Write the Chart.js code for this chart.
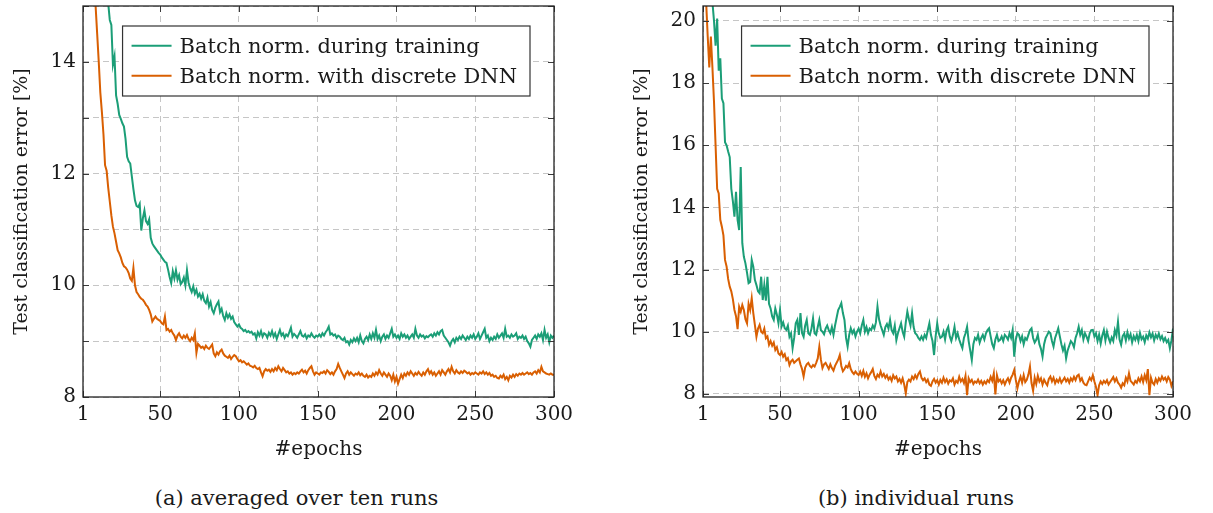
<!DOCTYPE html>
<html>
<head>
<meta charset="utf-8">
<script src="https://cdn.jsdelivr.net/npm/chart.js@4.4.1/dist/chart.umd.min.js"></script>
<style>
  html, body { margin: 0; padding: 0; background: #fff; }
  body { width: 1213px; height: 513px; position: relative; overflow: hidden;
         font-family: "DejaVu Serif", serif; color: #1a1a1a; }
  .panel { position: absolute; top: 0; }
  #panelA { left: 0; }
  #panelB { left: 620px; }
  .caption { position: absolute; top: 483px; height: 30px; line-height: 30px;
             font-size: 21px; text-align: center; white-space: nowrap; }
  #capA { left: 0; width: 593px; }
  #capB { left: 620px; width: 592px; }
</style>
</head>
<body>
<div class="panel" id="panelA"><canvas id="chartA" width="606" height="470"></canvas></div>
<div class="panel" id="panelB"><canvas id="chartB" width="593" height="470"></canvas></div>
<div class="caption" id="capA">(a) averaged over ten runs</div>
<div class="caption" id="capB">(b) individual runs</div>

<script>
// Test classification error [%] per epoch, averaged over ten runs
const avgTraining = [
  24.0,22.0,20.6,19.6,18.9,18.3,17.8,17.4,17.0,16.7,
  16.4,16.1,15.9,15.7,15.5,15.3,15.05,14.75,14.66,13.95,
  14.10,13.40,13.25,13.05,12.98,12.90,12.84,12.62,12.30,12.22,
  12.18,11.95,11.72,11.52,11.42,11.40,11.46,10.98,11.20,11.34,
  11.15,11.10,11.18,10.85,10.75,10.70,10.66,10.62,10.58,10.55,
  10.50,10.46,10.42,10.40,10.28,10.15,10.04,10.25,10.12,10.27,
  10.10,10.18,10.02,10.06,10.14,10.00,10.27,10.05,9.95,9.88,
  9.98,9.85,9.92,9.80,9.85,9.76,9.84,9.72,9.68,9.78,
  9.62,9.70,9.56,9.50,9.60,9.66,9.71,9.52,9.58,9.45,
  9.38,9.50,9.42,9.48,9.40,9.44,9.34,9.30,9.26,9.30,
  9.24,9.22,9.18,9.20,9.16,9.18,9.15,9.17,9.12,9.14,
  9.05,9.16,9.10,9.18,9.08,9.14,9.12,9.06,9.15,9.10,
  9.18,9.08,9.14,9.04,9.12,9.20,9.10,9.14,9.06,9.12,
  9.09,9.16,9.24,9.08,9.13,9.10,9.06,9.12,9.18,9.10,
  9.08,9.12,9.05,9.10,9.08,9.14,9.09,9.06,9.10,9.08,
  9.12,9.08,9.14,9.10,9.16,9.20,9.26,9.12,9.14,9.10,
  9.12,9.06,9.10,9.08,9.04,9.02,9.06,8.98,9.00,8.94,
  9.02,8.98,9.05,9.00,9.06,8.98,9.10,9.00,8.96,9.04,
  9.08,9.02,9.12,9.04,9.14,9.06,9.20,9.04,9.10,9.00,
  9.08,9.12,9.04,9.10,9.06,9.14,9.22,9.08,9.12,9.06,
  9.10,9.04,9.14,9.08,9.12,9.06,9.10,9.04,9.08,9.12,
  9.06,9.22,9.10,9.06,9.12,9.08,9.10,9.05,9.09,9.07,
  9.10,9.12,9.08,9.14,9.10,9.16,9.12,9.18,9.20,9.10,
  9.06,9.02,8.98,8.92,9.00,9.04,8.98,9.06,9.02,9.08,
  9.04,9.10,9.06,9.02,9.08,9.04,9.10,9.06,9.12,9.04,
  9.08,9.14,9.04,9.10,9.16,9.22,9.06,9.10,9.00,9.06,
  9.02,9.08,9.04,9.12,9.06,9.10,9.14,9.06,9.22,9.08,
  9.10,9.06,9.12,9.08,9.10,9.14,9.04,9.08,9.06,9.10,
  9.04,9.08,9.00,8.96,8.90,9.02,9.06,9.10,9.04,9.12,
  9.08,9.14,9.02,9.20,9.06,9.12,8.98,9.10,9.06,9.10
];
const avgDiscrete = [
  22.0,20.4,19.0,17.9,17.0,16.3,15.8,15.4,15.0,14.5,
  14.0,13.45,13.10,12.70,12.15,12.05,11.75,11.50,11.25,11.05,
  10.93,10.78,10.63,10.57,10.50,10.40,10.34,10.32,10.28,10.22,
  10.12,10.08,10.31,10.00,9.88,9.84,9.79,9.76,9.74,9.70,
  9.65,9.62,9.56,9.48,9.35,9.40,9.44,9.40,9.38,9.36,
  9.32,9.30,9.44,9.20,9.22,9.17,9.20,9.14,9.10,9.02,
  9.10,9.14,9.08,9.05,9.10,9.06,9.11,9.04,9.00,9.06,
  9.02,9.14,8.79,8.95,8.92,8.88,8.90,8.86,8.92,8.88,
  8.86,8.90,8.94,8.78,8.73,8.80,8.76,8.82,8.85,8.78,
  8.74,8.72,8.70,8.74,8.68,8.72,8.75,8.73,8.68,8.64,
  8.66,8.62,8.64,8.61,8.58,8.60,8.56,8.55,8.53,8.56,
  8.52,8.50,8.52,8.44,8.37,8.46,8.50,8.47,8.49,8.45,
  8.50,8.46,8.52,8.48,8.55,8.50,8.46,8.52,8.48,8.44,
  8.46,8.42,8.44,8.40,8.43,8.41,8.44,8.42,8.46,8.49,
  8.44,8.47,8.42,8.48,8.52,8.55,8.46,8.40,8.44,8.42,
  8.40,8.44,8.43,8.46,8.42,8.48,8.45,8.41,8.44,8.40,
  8.46,8.50,8.59,8.52,8.46,8.40,8.34,8.42,8.46,8.40,
  8.44,8.41,8.38,8.42,8.40,8.44,8.39,8.42,8.38,8.36,
  8.40,8.35,8.38,8.36,8.42,8.38,8.44,8.40,8.48,8.42,
  8.38,8.44,8.40,8.36,8.42,8.38,8.30,8.40,8.28,8.36,
  8.24,8.32,8.40,8.34,8.42,8.38,8.44,8.40,8.46,8.42,
  8.38,8.43,8.40,8.45,8.41,8.38,8.44,8.40,8.46,8.50,
  8.42,8.46,8.40,8.44,8.38,8.42,8.46,8.40,8.48,8.44,
  8.40,8.46,8.50,8.44,8.54,8.46,8.42,8.48,8.44,8.42,
  8.46,8.43,8.47,8.45,8.42,8.44,8.40,8.43,8.41,8.44,
  8.42,8.40,8.44,8.42,8.46,8.41,8.44,8.40,8.43,8.38,
  8.40,8.36,8.38,8.34,8.33,8.38,8.35,8.40,8.32,8.36,
  8.30,8.38,8.35,8.40,8.36,8.41,8.38,8.42,8.40,8.43,
  8.40,8.42,8.44,8.41,8.43,8.40,8.44,8.46,8.42,8.48,
  8.44,8.54,8.46,8.44,8.42,8.41,8.40,8.42,8.40,8.40
];

// Test classification error [%] per epoch, single runs
const runTraining = [
  26.0,24.5,23.2,22.3,21.6,21.0,20.6,20.0,19.2,20.08,
  18.4,18.8,17.5,17.35,16.1,16.0,15.8,15.62,14.6,14.2,
  13.7,14.5,13.6,13.27,15.3,12.85,12.41,12.2,11.9,11.56,
  11.60,12.31,12.09,11.67,11.50,11.30,11.24,11.77,11.02,11.50,
  11.00,11.77,10.90,10.75,10.49,10.38,10.75,10.55,10.27,10.70,
  10.17,10.30,10.11,10.06,10.20,9.84,9.95,9.47,9.80,10.27,
  10.38,9.90,10.60,9.96,9.84,10.20,10.38,9.95,9.90,10.10,
  10.43,9.95,9.90,10.15,10.38,10.05,10.00,9.92,10.10,10.20,
  10.05,9.95,10.15,9.90,10.20,10.45,10.70,10.80,10.92,10.60,
  10.38,9.80,9.52,9.90,10.11,9.95,10.05,9.85,10.00,10.10,
  9.95,10.20,10.38,10.00,10.15,9.95,10.10,10.05,10.20,10.10,
  10.30,10.81,10.40,10.20,10.05,9.90,10.15,10.25,10.10,10.38,
  10.05,9.95,10.20,9.73,9.95,10.11,10.27,10.00,9.84,10.30,
  10.65,10.40,10.20,10.60,10.15,9.95,9.90,9.80,9.74,9.85,
  9.74,9.90,9.80,10.05,10.27,9.90,9.70,9.25,9.85,10.27,
  9.95,9.80,9.84,10.00,9.75,10.05,10.16,9.85,9.70,9.90,
  10.16,9.80,9.95,9.75,9.60,9.47,9.80,9.95,10.16,9.70,
  9.40,9.09,9.60,9.80,9.74,9.90,9.65,9.80,9.90,9.75,
  9.95,10.05,10.11,9.85,9.60,9.47,9.75,9.90,9.70,9.74,
  9.85,9.70,9.90,9.84,9.75,9.95,9.80,10.06,9.20,9.75,
  9.95,9.90,9.70,9.85,9.60,9.80,9.74,9.90,10.05,10.11,
  9.80,9.65,9.74,9.90,9.60,9.45,9.20,9.60,9.80,9.90,
  10.00,9.95,9.70,9.52,9.80,9.95,10.11,9.85,9.60,9.40,
  9.55,9.14,9.40,9.55,9.70,9.63,9.50,9.80,9.95,10.16,
  9.90,10.05,9.75,9.95,9.84,9.70,9.95,10.05,10.06,9.85,
  9.95,9.70,9.90,9.62,9.88,10.05,9.72,10.00,9.80,9.66,
  9.82,9.70,10.05,9.88,10.32,9.75,9.58,9.86,9.94,9.72,
  9.98,9.78,9.92,9.66,9.86,9.74,9.90,9.70,9.96,9.76,
  9.84,9.66,9.88,9.78,9.98,9.82,9.94,9.72,9.90,9.80,
  9.94,9.76,9.86,9.70,9.80,9.66,9.74,9.47,9.72,10.10
];
const runDiscrete = [
  25.0,22.5,20.6,19.5,18.5,19.5,18.5,17.4,16.0,14.6,
  14.45,13.6,13.38,13.1,12.31,12.1,11.7,11.45,11.30,11.05,
  10.70,10.50,10.08,10.80,10.65,10.86,10.70,10.40,10.27,10.90,
  10.70,11.08,10.60,10.22,9.84,10.10,10.22,10.00,9.95,10.10,
  9.79,9.85,9.58,9.70,9.55,9.65,9.41,9.50,9.30,9.25,
  9.35,9.20,9.28,9.09,9.15,8.93,9.05,9.10,9.00,9.05,
  9.10,9.14,8.95,8.80,8.56,8.85,8.95,9.00,8.90,8.85,
  8.93,8.88,9.00,9.14,9.52,9.10,8.83,8.95,9.00,8.90,
  8.80,8.95,8.83,8.75,8.90,9.00,9.10,9.25,8.90,8.73,
  8.80,8.90,8.85,8.99,8.80,8.70,8.64,8.72,8.65,8.61,
  8.72,8.58,8.74,8.55,8.66,8.50,8.62,8.70,8.80,8.58,
  8.48,8.62,8.55,8.72,8.56,8.64,8.52,8.60,8.46,8.54,
  8.42,8.60,8.50,8.56,8.40,8.48,8.36,8.50,8.30,8.02,
  8.38,8.46,8.40,8.56,8.48,8.60,8.50,8.64,8.72,8.52,
  8.44,8.50,8.38,8.46,8.30,8.26,8.40,8.48,8.36,8.44,
  8.30,8.45,8.36,8.52,8.38,8.47,8.33,8.44,8.40,8.50,
  8.30,8.42,8.36,8.55,8.40,8.48,8.35,8.58,7.96,8.50,
  8.38,8.45,8.32,8.40,8.36,8.46,8.34,8.42,8.30,8.40,
  8.33,8.44,8.38,8.55,8.42,8.66,7.98,8.60,8.40,8.46,
  8.34,8.44,8.30,8.42,8.50,8.36,8.52,8.62,8.77,8.45,
  8.18,8.40,8.55,8.36,8.60,8.38,8.45,8.62,8.88,8.35,
  8.10,8.52,8.32,8.58,8.40,8.50,8.30,8.46,8.36,8.28,
  8.48,8.56,8.40,8.52,8.34,8.46,8.38,8.50,8.36,8.44,
  8.52,8.40,8.48,8.36,8.50,8.42,8.55,8.44,8.58,8.62,
  8.42,8.50,8.36,8.30,8.28,8.40,8.52,8.44,8.60,8.40,
  8.22,7.96,8.28,8.40,8.32,8.42,8.35,8.44,8.30,8.38,
  8.46,8.54,8.40,8.50,8.36,8.30,8.20,8.34,8.28,8.52,
  8.40,8.66,8.42,8.36,8.30,8.42,8.36,8.50,8.40,8.56,
  8.38,8.60,8.44,8.80,7.96,8.52,8.36,8.30,8.48,8.36,
  8.50,8.42,8.56,8.46,8.52,8.40,8.54,8.46,8.26,8.40
];

const seriesNames = ['Batch norm. during training', 'Batch norm. with discrete DNN'];
const xTickValues = [1, 50, 100, 150, 200, 250, 300];
const yTickValuesA = [8, 9, 10, 11, 12, 13, 14, 15];
const yLabelValuesA = [8, 10, 12, 14];
const yTickValuesB = [8, 10, 12, 14, 16, 18, 20];

const epochs = Array.from({ length: avgTraining.length }, (_, i) => i + 1);

const SERIF = '"DejaVu Serif", serif';
const INK = '#1a1a1a';
const GREEN = '#1b9e77';
const ORANGE = '#d95f02';

// Frame, inward tick marks on all four sides and the boxed legend
const pgfDecor = {
  id: 'pgfDecor',
  afterDraw(chart) {
    const { ctx, chartArea: a, scales: { x, y } } = chart;
    ctx.save();
    ctx.strokeStyle = '#3a3a3a';
    ctx.lineWidth = 1;
    ctx.beginPath();
    x.ticks.forEach(t => {
      const px = Math.round(x.getPixelForValue(t.value)) + 0.5;
      ctx.moveTo(px, a.bottom); ctx.lineTo(px, a.bottom - 6);
      ctx.moveTo(px, a.top); ctx.lineTo(px, a.top + 6);
    });
    y.ticks.forEach(t => {
      const py = Math.round(y.getPixelForValue(t.value)) + 0.5;
      ctx.moveTo(a.left, py); ctx.lineTo(a.left + 6, py);
      ctx.moveTo(a.right, py); ctx.lineTo(a.right - 6, py);
    });
    ctx.stroke();

    ctx.strokeStyle = '#222';
    ctx.lineWidth = 1.3;
    ctx.strokeRect(a.left, a.top, a.right - a.left, a.bottom - a.top);

    // legend box in the upper right corner of the plot
    ctx.font = '21px ' + SERIF;
    const sets = chart.data.datasets;
    const tw = Math.max(...sets.map(d => ctx.measureText(d.label).width));
    const bw = 57 + tw + 13, bh = 70;
    const bx = a.right - 24 - bw, by = a.top + 20;
    ctx.fillStyle = '#fff';
    ctx.fillRect(bx, by, bw, bh);
    ctx.strokeStyle = '#333';
    ctx.lineWidth = 1.2;
    ctx.strokeRect(bx, by, bw, bh);
    sets.forEach((d, i) => {
      const ry = by + 19.7 + i * 30;
      ctx.strokeStyle = d.borderColor;
      ctx.lineWidth = 2;
      ctx.beginPath();
      ctx.moveTo(bx + 9, ry); ctx.lineTo(bx + 49, ry);
      ctx.stroke();
      ctx.fillStyle = INK;
      ctx.textBaseline = 'alphabetic';
      ctx.textAlign = 'left';
      ctx.fillText(d.label, bx + 57, ry + 7.6);
    });
    ctx.restore();
  }
};

function lockWidth(w) {
  return s => { s.width = w; s.paddingTop = 0; s.paddingBottom = 0; s.paddingLeft = 0; s.paddingRight = 0; };
}
function lockHeight(h) {
  return s => { s.height = h; s.paddingTop = 0; s.paddingBottom = 0; s.paddingLeft = 0; s.paddingRight = 0; };
}

function makeChart(canvasId, training, discrete, yOpts, rightPad) {
  const gridCommon = { color: '#c6c6c6', lineWidth: 1, drawTicks: false };
  const borderCommon = { display: false, dash: [6, 4] };
  return new Chart(document.getElementById(canvasId), {
    type: 'line',
    data: {
      labels: epochs,
      datasets: [
        { label: seriesNames[0], data: training, borderColor: GREEN, borderWidth: 2,
          pointRadius: 0, tension: 0, fill: false },
        { label: seriesNames[1], data: discrete, borderColor: ORANGE, borderWidth: 2,
          pointRadius: 0, tension: 0, fill: false }
      ]
    },
    options: {
      responsive: false,
      animation: false,
      events: [],
      layout: { padding: { left: 0, top: 6, right: rightPad, bottom: 0 } },
      plugins: { legend: { display: false }, tooltip: { enabled: false } },
      scales: {
        x: {
          type: 'linear', min: 1, max: 300,
          grid: gridCommon, border: borderCommon,
          afterBuildTicks: s => { s.ticks = xTickValues.map(v => ({ value: v })); },
          afterFit: lockHeight(73),
          ticks: { autoSkip: false, maxRotation: 0, padding: 6, color: INK,
                   font: { family: SERIF, size: 20 } },
          title: { display: true, text: '#epochs', color: INK,
                   font: { family: SERIF, size: 20 }, padding: { top: 0, bottom: 8 } }
        },
        y: {
          type: 'linear', min: yOpts.min, max: yOpts.max,
          grid: gridCommon, border: borderCommon,
          afterBuildTicks: s => { s.ticks = yOpts.ticks.map(v => ({ value: v })); },
          afterFit: lockWidth(83),
          ticks: { autoSkip: false, padding: 7, color: INK,
                   font: { family: SERIF, size: 20 },
                   callback: v => (yOpts.labels.includes(v) ? String(v) : '') },
          title: { display: true, text: 'Test classification error [%]', color: INK,
                   font: { family: SERIF, size: 19 }, padding: { top: 11, bottom: 0 } }
        }
      }
    },
    plugins: [pgfDecor]
  });
}

makeChart('chartA', avgTraining, avgDiscrete,
  { min: 8, max: 15, ticks: yTickValuesA, labels: yLabelValuesA }, 52);
makeChart('chartB', runTraining, runDiscrete,
  { min: 7.9, max: 20.48, ticks: yTickValuesB, labels: yTickValuesB }, 40);
</script>
</body>
</html>
